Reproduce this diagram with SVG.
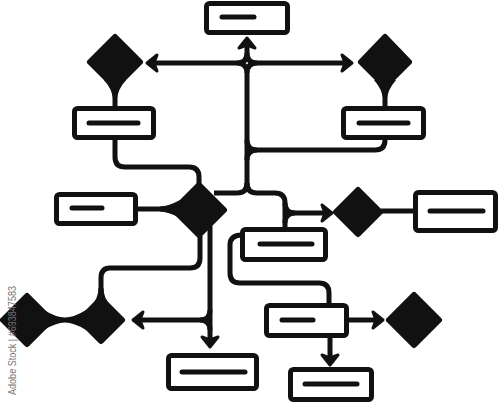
<svg xmlns="http://www.w3.org/2000/svg" width="500" height="403" viewBox="0 0 500 403">
<style>
.box{fill:#fff;stroke:#111;stroke-width:5}
.bar{stroke:#111;stroke-width:5;stroke-linecap:round}
.dia{fill:#111;stroke:#111;stroke-width:6;stroke-linejoin:round}
.neck{fill:#111}
.c{fill:none;stroke:#111;stroke-width:5}
.wm{font-family:"Liberation Sans",Arial,sans-serif;font-size:10.5px;fill:#777}
</style>
<defs>
<marker id="ah" markerUnits="userSpaceOnUse" viewBox="-22 -12 26 24" refX="-6" refY="0" markerWidth="26" markerHeight="24" orient="auto">
<path d="M -10,-8 L 0,0 L -10,8 L -7,0 Z" fill="#111" stroke="#111" stroke-width="3" stroke-linejoin="round"/>
</marker>
</defs>
<rect width="500" height="403" fill="#fff"/>
<g id="connectors">
<path class="c" d="M237,63 L153,63" marker-end="url(#ah)"/>
<path class="c" d="M237,63 Q247,63 247,53 L247,44" marker-end="url(#ah)"/>
<path class="c" d="M247,53 Q247,63 257,63 L346,63" marker-end="url(#ah)"/>
<path class="c" d="M247,190 L247,73 Q247,63 237,63"/>
<path class="c" d="M247,73 Q247,63 257,63"/>
<path class="c" d="M247,140 Q247,150 257,150 L375,150 Q385,150 385,140 L385,138"/>
<path class="c" d="M247,160 Q247,150 257,150"/>
<path class="c" d="M247,183 Q247,193 237,193 L214,193"/>
<path class="c" d="M247,183 Q247,193 257,193 L275,193 Q285,193 285,203 L285,228"/>
<path class="c" d="M285,203 Q285,213 295,213 L326,213" marker-end="url(#ah)"/>
<path class="c" d="M285,223 Q285,213 295,213"/>
<path class="c" d="M115,138 L115,157 Q115,167 125,167 L189,167 Q199,167 199,177 L199,186"/>
<path class="c" d="M136,209 L172,209"/>
<path class="c" d="M381,211 L415,211"/>
<path class="c" d="M200,236 L200,258 Q200,268 190,268 L110,268 Q101,268 101,278 L101,298"/>
<path class="c" d="M210,226 L210,341" marker-end="url(#ah)"/>
<path class="c" d="M210,310 Q210,320 200,320 L139,320" marker-end="url(#ah)"/>
<path class="c" d="M210,330 Q210,320 200,320"/>
<path class="c" d="M242,235 Q230,235 230,245 L230,273 Q230,283 240,283 L319,283 Q329,283 329,293 L329,305"/>
<path class="c" d="M347,320 L377,320" marker-end="url(#ah)"/>
<path class="c" d="M330,336 L330,359" marker-end="url(#ah)"/>
<path class="neck" d="M104,80 Q112.5,90 112.5,98 L112.5,108 L117.5,108 L117.5,98 Q117.5,90 126,80 Z"/>
<path class="neck" d="M374,80 Q382.5,90 382.5,98 L382.5,108 L387.5,108 L387.5,98 Q387.5,90 396,80 Z"/>
<path class="neck" d="M44,310 Q56,317.5 65,317.5 Q74,317.5 86,310 L86,330 Q74,322.5 65,322.5 Q56,322.5 44,330 Z"/>
<path class="neck" d="M180,200 Q168,206.5 160,206.5 L160,211.5 Q168,211.5 180,218 Z"/>
<path class="neck" d="M91,306 Q98.5,298 98.5,288 L103.5,288 Q103.5,298 111,306 Z"/>
</g>
<g id="d1"><polygon class="dia" points="115,37 140,62 115,87 90,62"/></g>
<g id="d2"><polygon class="dia" points="385,37 409,62 385,86 361,62"/></g>
<g id="d3"><polygon class="dia" points="199,185 224,210 199,235 174,210"/></g>
<g id="d4"><polygon class="dia" points="358,190 380,212 358,234 336,212"/></g>
<g id="d5"><polygon class="dia" points="27,296 51,320 27,344 3,320"/></g>
<g id="d6"><polygon class="dia" points="101,299 122,320 101,341 80,320"/></g>
<g id="d7"><polygon class="dia" points="414,295 439,320 414,345 389,320"/></g>
<g id="b1"><rect class="box" x="206.5" y="3.5" width="81" height="29" rx="3"/><line class="bar" x1="222" y1="17" x2="254" y2="17"/></g>
<g id="b2"><rect class="box" x="74.5" y="108.5" width="79" height="29" rx="3"/><line class="bar" x1="89" y1="123" x2="138" y2="123"/></g>
<g id="b3"><rect class="box" x="343.5" y="108.5" width="80" height="29" rx="3"/><line class="bar" x1="359" y1="123" x2="408" y2="123"/></g>
<g id="b4"><rect class="box" x="56.5" y="194.5" width="79" height="29" rx="3"/><line class="bar" x1="72" y1="208" x2="102" y2="208"/></g>
<g id="b5"><rect class="box" x="415.5" y="192.5" width="80" height="38" rx="3"/><line class="bar" x1="430" y1="211" x2="483" y2="211"/></g>
<g id="b6"><rect class="box" x="242.5" y="229.5" width="83" height="30" rx="3"/><line class="bar" x1="260" y1="244" x2="312" y2="244"/></g>
<g id="b7"><rect class="box" x="266.5" y="305.5" width="80" height="30" rx="3"/><line class="bar" x1="282" y1="320" x2="313" y2="320"/></g>
<g id="b8"><rect class="box" x="168.5" y="355.5" width="88" height="33" rx="3"/><line class="bar" x1="182" y1="372" x2="245" y2="372"/></g>
<g id="b9"><rect class="box" x="290.5" y="369.5" width="81" height="30" rx="3"/><line class="bar" x1="305" y1="384" x2="357" y2="384"/></g>
<text class="wm" transform="translate(16,395) rotate(-90)" textLength="109" lengthAdjust="spacingAndGlyphs">Adobe Stock | #693847583</text>
</svg>
